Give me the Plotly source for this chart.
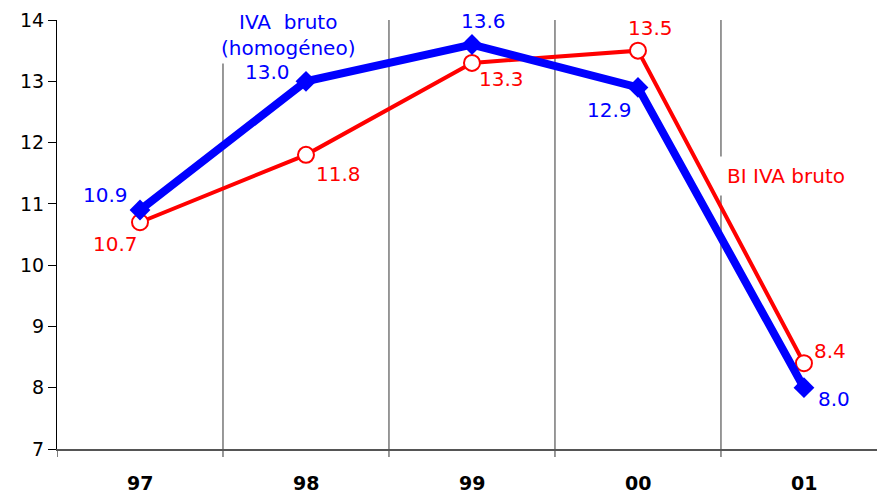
import plotly.graph_objects as go

categories = ["97", "98", "99", "00", "01"]
iva_homogeneo = [10.9, 13.0, 13.6, 12.9, 8.0]
bi_iva_bruto = [10.7, 11.8, 13.3, 13.5, 8.4]
y_ticks = [7, 8, 9, 10, 11, 12, 13, 14]

BLUE = "#0000FF"
RED = "#FF0000"
FONT = "DejaVu Sans"

xs = list(range(len(categories)))

fig = go.Figure()
fig.add_trace(go.Scatter(
    x=xs, y=bi_iva_bruto, mode="lines+markers",
    line=dict(color=RED, width=4),
    marker=dict(symbol="circle", size=16, color="white", line=dict(color=RED, width=2)),
    showlegend=False, cliponaxis=False))
fig.add_trace(go.Scatter(
    x=xs, y=iva_homogeneo, mode="lines+markers",
    line=dict(color=BLUE, width=8),
    marker=dict(symbol="diamond", size=16, color=BLUE),
    showlegend=False, cliponaxis=False))

# value labels
blue_off = [(-35, 15), (-38, 9), (12, 24), (-28, -23), (30, -11)]
red_off = [(-25, -22), (33, -19), (30, -16), (13, 23), (26, 12)]
for i, v in enumerate(iva_homogeneo):
    fig.add_annotation(x=xs[i], y=v, text=f"{v:.1f}", showarrow=False,
                       xshift=blue_off[i][0], yshift=blue_off[i][1],
                       font=dict(family=FONT, size=20, color=BLUE))
for i, v in enumerate(bi_iva_bruto):
    fig.add_annotation(x=xs[i], y=v, text=f"{v:.1f}", showarrow=False,
                       xshift=red_off[i][0], yshift=red_off[i][1],
                       font=dict(family=FONT, size=20, color=RED))

# vertical separators (with tick below axis)
shapes = []
for b in [-0.5, 0.5, 1.5, 2.5, 3.5]:
    shapes.append(dict(type="line", xref="x", yref="paper", x0=b, x1=b,
                       y0=-8/429, y1=1 if b != -0.5 else 0,
                       line=dict(color="#333333" if b != -0.5 else "black", width=1), layer="below"))
fig.update_layout(shapes=shapes)

# series labels
fig.add_annotation(x=0.89, y=1.0, yref="paper", yanchor="bottom", yshift=-44,
                   text="IVA  bruto<br>(homogéneo)", showarrow=False, align="center",
                   bgcolor="white", borderpad=3, font=dict(family=FONT, size=20, color=BLUE))
fig.add_annotation(x=3.89, y=11.45, text="BI IVA bruto", showarrow=False,
                   bgcolor="white", borderpad=7,
                   font=dict(family=FONT, size=20, color=RED))

# x category labels
for i, c in enumerate(categories):
    fig.add_annotation(x=xs[i], y=0, yref="paper", yanchor="middle", yshift=-34,
                       text=f"<b>{c}</b>", showarrow=False,
                       font=dict(family=FONT, size=19, color="black"))

fig.update_xaxes(range=[-0.5, 4.44], showticklabels=False, ticks="",
                 showgrid=False, zeroline=False, showline=True,
                 linecolor="#555555", linewidth=2)
fig.update_yaxes(range=[7, 14], tickvals=y_ticks, ticks="outside", ticklen=8,
                 tickcolor="black", showgrid=False, zeroline=False,
                 showline=True, linecolor="black", linewidth=1,
                 tickfont=dict(family=FONT, size=19, color="black"))

fig.update_layout(width=877, height=496,
                  margin=dict(l=57, r=0, t=20, b=47, autoexpand=False),
                  plot_bgcolor="white", paper_bgcolor="white",
                  font=dict(family=FONT))

fig.write_html("out.html", config={"displayModeBar": False},
               post_script="document.body.style.margin='0';document.body.style.overflow='hidden';")
